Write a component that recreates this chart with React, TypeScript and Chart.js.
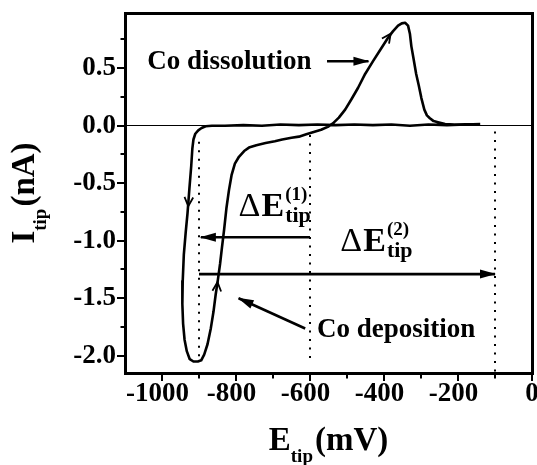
import React, { useEffect, useRef } from 'react';
import { Chart, registerables } from 'chart.js';

Chart.register(...registerables);

const SERIF = '"Liberation Serif", "Times New Roman", Times, serif';

// Tip voltammogram, in scan order (E in mV, I in nA)
const scanE = [
  -140, -180, -230, -280, -330, -380, -430, -480, -530, -580, -630, -680, -730, -780, -830, -865,
  -882, -893, -902, -910, -915, -918, -921, -926, -931, -936, -941, -944, -945, -943, -939, -933,
  -925, -915, -903, -894, -886, -877, -868, -861, -855, -849, -843, -838, -832, -826, -819, -812,
  -803, -792, -778, -765, -745, -720, -695, -675, -650, -630, -610, -590, -570, -552, -538, -522,
  -505, -488, -470, -451, -430, -406, -390, -376, -362, -352, -343, -335, -330, -326, -320, -313,
  -306, -299, -291, -284, -276, -266, -254, -235, -210, -180, -140,
];
const scanI = [
  0.015, 0.01, 0.005, 0.01, 0.0, 0.01, 0.005, 0.01, 0.005, 0.01, 0.005, 0.01, 0.0, 0.005, 0.0, 0.0,
  -0.005, -0.02, -0.04, -0.07, -0.12, -0.2, -0.35, -0.55, -0.76, -0.93, -1.12, -1.35, -1.55, -1.72, -1.86, -1.96,
  -2.03, -2.05, -2.05, -2.04, -1.99, -1.9, -1.76, -1.62, -1.47, -1.34, -1.2, -1.06, -0.9, -0.72, -0.56, -0.43,
  -0.33, -0.27, -0.22, -0.19, -0.17, -0.15, -0.135, -0.12, -0.105, -0.095, -0.075, -0.055, -0.035, -0.01, 0.02, 0.07,
  0.14, 0.23, 0.33, 0.45, 0.56, 0.68, 0.76, 0.82, 0.87, 0.89, 0.895, 0.87, 0.8, 0.69, 0.58, 0.45,
  0.35, 0.24, 0.14, 0.09, 0.065, 0.04, 0.03, 0.015, 0.01, 0.012, 0.01,
];

const xMin = -1100;
const xMax = 0;
const yMin = -2.15;
const yMax = 0.98;
const xLabelValues = [-1000, -800, -600, -400, -200, 0];
const yLabelValues = [-2.0, -1.5, -1.0, -0.5, 0.0, 0.5];

// dotted guide lines
const guideE = [-900, -600, -100];
const guideTopI = [-0.14, -0.08, -0.05];
const guideBottomI = [-2.06, -2.06, -2.14];

// annotation arrows
const arrowFromE = [-554, -600, -900, -613];
const arrowFromI = [0.56, -0.97, -1.29, -1.763];
const arrowToE = [-442, -895, -100, -793];
const arrowToI = [0.56, -0.97, -1.29, -1.5];

// scan-direction marks on the curve
const markTipE = [-929, -850, -382];
const markTipI = [-0.7, -1.36, 0.8];
const markTailE = [-926, -853, -394];
const markTailI = [-0.55, -1.48, 0.745];

// text notes
const noteText = ['Co dissolution', 'Co deposition'];
const noteE = [-1040, -581];
const noteI = [0.49, -1.835];

const deltaSup = ['(1)', '(2)'];
const deltaE = [-793, -518];
const deltaI = [-0.789, -1.093];

function font(size: number, weight = 'bold') {
  return `${weight} ${size}px ${SERIF}`;
}

type Part = { t: string; s: number; dy?: number; gap?: number; w?: string };

function rich(ctx: CanvasRenderingContext2D, parts: Part[], x: number, y: number, center: boolean) {
  const widths = parts.map((p) => {
    ctx.font = font(p.s, p.w);
    return ctx.measureText(p.t).width + (p.gap || 0);
  });
  const total = widths.reduce((a, b) => a + b, 0);
  let cx = center ? x - total / 2 : x;
  parts.forEach((p, i) => {
    ctx.font = font(p.s, p.w);
    cx += p.gap || 0;
    ctx.fillText(p.t, cx, y + (p.dy || 0));
    cx += widths[i] - (p.gap || 0);
  });
}

const decor = {
  id: 'decor',
  afterDraw(chart: any) {
    const { ctx, chartArea: a } = chart;
    const xs = chart.scales.x;
    const ys = chart.scales.y;
    const X = (v: number) => xs.getPixelForValue(v);
    const Y = (v: number) => ys.getPixelForValue(v);
    ctx.save();
    ctx.fillStyle = '#000';
    ctx.strokeStyle = '#000';
    ctx.lineCap = 'butt';

    // frame
    ctx.lineWidth = 3;
    ctx.strokeRect(a.left + 0.5, a.top + 0.5, a.right - a.left, a.bottom - a.top);

    // tick marks
    ctx.lineWidth = 2;
    xs.ticks.forEach((t: any) => {
      if (t.value <= xMin) return;
      const major = xLabelValues.includes(t.value);
      const px = Math.round(X(t.value));
      ctx.beginPath();
      ctx.moveTo(px, a.bottom + 2);
      ctx.lineTo(px, a.bottom + (major ? 8 : 5.5));
      ctx.stroke();
    });
    ys.ticks.forEach((t: any) => {
      const major = yLabelValues.some((v) => Math.abs(v - t.value) < 1e-6);
      const py = Math.round(Y(t.value));
      ctx.beginPath();
      ctx.moveTo(a.left - 1, py);
      ctx.lineTo(a.left - (major ? 8 : 4.5), py);
      ctx.stroke();
    });

    // arrow heads of the annotation arrows
    for (let i = 0; i < arrowToE.length; i++) {
      const x0 = X(arrowFromE[i]);
      const y0 = Y(arrowFromI[i]);
      const x1 = X(arrowToE[i]);
      const y1 = Y(arrowToI[i]);
      const ang = Math.atan2(y1 - y0, x1 - x0);
      const len = 15;
      const half = 4.5;
      const c = Math.cos(ang);
      const s = Math.sin(ang);
      ctx.beginPath();
      ctx.moveTo(x1 + c * 1, y1 + s * 1);
      ctx.lineTo(x1 - len * c + half * s, y1 - len * s - half * c);
      ctx.lineTo(x1 - len * c - half * s, y1 - len * s + half * c);
      ctx.closePath();
      ctx.fill();
    }

    // open scan-direction marks
    ctx.lineWidth = 1.8;
    for (let i = 0; i < markTipE.length; i++) {
      const x0 = X(markTailE[i]);
      const y0 = Y(markTailI[i]);
      const x1 = X(markTipE[i]);
      const y1 = Y(markTipI[i]);
      const ang = Math.atan2(y1 - y0, x1 - x0);
      const len = 10;
      const spread = 0.45;
      ctx.beginPath();
      ctx.moveTo(x1 - len * Math.cos(ang - spread), y1 - len * Math.sin(ang - spread));
      ctx.lineTo(x1, y1);
      ctx.lineTo(x1 - len * Math.cos(ang + spread), y1 - len * Math.sin(ang + spread));
      ctx.stroke();
    }

    // notes
    ctx.textAlign = 'left';
    ctx.textBaseline = 'alphabetic';
    ctx.font = font(27);
    noteText.forEach((t, i) => ctx.fillText(t, X(noteE[i]), Y(noteI[i])));

    // Delta E labels
    deltaSup.forEach((sup, i) => {
      const x0 = X(deltaE[i]);
      const y0 = Y(deltaI[i]);
      ctx.font = font(34, 'normal');
      ctx.fillText('\u0394', x0, y0);
      const wd = ctx.measureText('\u0394').width;
      ctx.font = font(34);
      ctx.fillText('E', x0 + wd + 1, y0);
      const we = ctx.measureText('E').width;
      const xs2 = x0 + wd + 1 + we + 1;
      ctx.font = font(19);
      ctx.fillText(sup, xs2, y0 - 16);
      ctx.font = font(22);
      ctx.fillText('tip', xs2, y0 + 6);
    });

    // axis titles
    const cx = (a.left + a.right) / 2;
    rich(
      ctx,
      [
        { t: 'E', s: 33 },
        { t: 'tip', s: 19, dy: 12 },
        { t: '(mV)', s: 33, gap: 2 },
      ],
      cx,
      a.bottom + 77,
      true,
    );
    ctx.save();
    ctx.translate(a.left - 91, (a.top + a.bottom) / 2);
    ctx.rotate(-Math.PI / 2);
    rich(
      ctx,
      [
        { t: 'I', s: 33 },
        { t: 'tip', s: 19, dy: 12 },
        { t: '(nA)', s: 33, gap: 2 },
      ],
      0,
      0,
      true,
    );
    ctx.restore();

    ctx.restore();
  },
};

export default function App() {
  const ref = useRef<HTMLCanvasElement>(null);
  useEffect(() => {
    const datasets: any[] = [];
    guideE.forEach((e, i) => {
      datasets.push({
        data: [
          { x: e, y: guideTopI[i] },
          { x: e, y: guideBottomI[i] },
        ],
        showLine: true,
        borderColor: '#000',
        borderWidth: 2,
        borderDash: [2, 6.5],
        pointRadius: 0,
      });
    });
    arrowFromE.forEach((e, i) => {
      datasets.push({
        data: [
          { x: e, y: arrowFromI[i] },
          { x: arrowToE[i], y: arrowToI[i] },
        ],
        showLine: true,
        borderColor: '#000',
        borderWidth: 2.6,
        pointRadius: 0,
      });
    });
    datasets.push({
      data: scanE.map((e, i) => ({ x: e, y: scanI[i] })),
      showLine: true,
      borderColor: '#000',
      borderWidth: 2.6,
      pointRadius: 0,
      tension: 0,
      borderJoinStyle: 'round',
    });

    const chart = new Chart(ref.current as HTMLCanvasElement, {
      type: 'scatter',
      data: { datasets },
      plugins: [decor],
      options: {
        animation: false,
        responsive: false,
        devicePixelRatio: 1,
        events: [],
        layout: { padding: { top: 13, right: 5, left: 0, bottom: 0 }, autoPadding: false },
        plugins: { legend: { display: false }, tooltip: { enabled: false } },
        scales: {
          x: {
            type: 'linear',
            min: xMin,
            max: xMax,
            border: { display: false },
            grid: { display: true, drawOnChartArea: false, drawTicks: true, tickLength: 8, tickColor: 'rgba(0,0,0,0)' },
            ticks: {
              stepSize: 100,
              maxTicksLimit: 100,
              autoSkip: false,
              maxRotation: 0,
              padding: 0,
              color: '#000',
              font: { family: SERIF, size: 27, weight: 'bold', lineHeight: 1 },
              callback: (v: any) => (xLabelValues.includes(v) ? (v < 0 ? `${v}\u2004` : `${v}`) : ''),
            },
            afterFit: (s: any) => {
              s.height = 92;
              s.paddingLeft = 0;
              s.paddingRight = 0;
            },
          },
          y: {
            type: 'linear',
            min: yMin,
            max: yMax,
            border: { display: false },
            grid: {
              display: true,
              drawOnChartArea: true,
              drawTicks: true,
              tickLength: 8,
              tickColor: 'rgba(0,0,0,0)',
              lineWidth: 1,
              color: (c: any) => (c.tick && Math.abs(c.tick.value) < 1e-9 ? '#000' : 'rgba(0,0,0,0)'),
            },
            ticks: {
              stepSize: 0.25,
              includeBounds: false,
              maxTicksLimit: 100,
              autoSkip: false,
              padding: 1,
              color: '#000',
              font: { family: SERIF, size: 27, weight: 'bold', lineHeight: 1 },
              callback: (v: any) =>
                yLabelValues.some((l) => Math.abs(l - v) < 1e-6) ? Number(v).toFixed(1) : '',
            },
            afterFit: (s: any) => {
              s.width = 125;
              s.paddingTop = 0;
              s.paddingBottom = 0;
            },
          },
        },
      } as any,
    });
    return () => chart.destroy();
  }, []);
  return (
    <div style={{ position: 'absolute', left: 0, top: 0, width: 537, height: 465, background: '#fff' }}>
      <canvas ref={ref} width={537} height={465} style={{ display: 'block', width: 537, height: 465 }} />
    </div>
  );
}
